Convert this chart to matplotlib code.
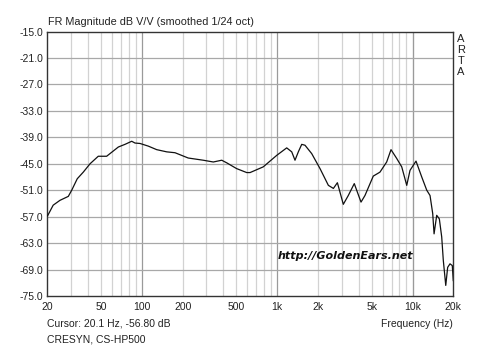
import numpy as np
import matplotlib.pyplot as plt
from matplotlib.ticker import FixedLocator, NullFormatter

plt.rcParams['font.family'] = ['Liberation Sans', 'DejaVu Sans']

# measured response, 1/24 oct smoothed
freq = [20.1, 22.1, 24.8, 28.6, 30.3, 33.3, 36.9, 41.4, 47.6, 54.9, 58.1, 67.0,
        75.0, 84.1, 88.9, 96.9, 111.5, 128.6, 152.5, 175.7, 220, 284, 337, 389,
        424, 501, 595, 630, 789, 991, 1175, 1280, 1353, 1432, 1517, 1604, 1798,
        2071, 2387, 2600, 2783, 3078, 3351, 3710, 3906, 4160, 4450, 5125, 5743,
        6438, 6930, 7636, 8316, 9057, 9576, 10604, 11690, 12730, 13460, 14090,
        14420, 15080, 15770, 16420, 16870, 17590, 18170, 18910, 19660, 20000]
mag = [-56.8, -54.4, -53.3, -52.4, -51.0, -48.4, -46.9, -45.0, -43.3, -43.3,
       -42.7, -41.2, -40.6, -39.9, -40.3, -40.4, -41.0, -41.8, -42.3, -42.5,
       -43.7, -44.2, -44.6, -44.2, -44.8, -46.1, -47.0, -47.0, -45.7, -43.1,
       -41.4, -42.3, -44.2, -42.3, -40.6, -40.8, -42.7, -46.1, -49.9, -50.6,
       -49.3, -54.2, -52.2, -49.5, -51.4, -53.7, -52.2, -47.8, -46.9, -44.6,
       -41.8, -43.8, -45.7, -49.9, -46.5, -44.4, -48.0, -51.0, -52.2, -56.3,
       -60.9, -56.7, -57.5, -61.6, -66.9, -72.6, -68.5, -67.7, -68.1, -71.5]

xtick_vals = [20, 50, 100, 200, 500, 1000, 2000, 5000, 10000, 20000]
xtick_text = ['20', '50', '100', '200', '500', '1k', '2k', '5k', '10k', '20k']
ytick_vals = [-75, -69, -63, -57, -51, -45, -39, -33, -27, -21, -15]

fig = plt.figure(figsize=(5, 3.49), dpi=100)
ax = fig.add_axes([47.3 / 500, 1 - 296 / 349, 406 / 500, 264.5 / 349])
ax.set_xscale('log')
ax.set_xlim(20, 20000)
ax.set_ylim(-75, -15)

# grid: every integer multiple in each decade, decades darker
minor = [m * d for d in (10, 100, 1000) for m in range(2, 10)] + [10000, 20000]
for f in minor:
    if 20 < f < 20000:
        ax.axvline(f, color='#d2d2d2', lw=0.9, zorder=0)
for f in (100, 1000, 10000):
    ax.axvline(f, color='#9a9a9a', lw=0.9, zorder=0)
for y in ytick_vals[1:-1]:
    ax.axhline(y, color='#a8a8a8', lw=0.9, zorder=0)

ax.plot(freq, mag, color='#111111', lw=0.9, zorder=3)

ax.xaxis.set_major_locator(FixedLocator(xtick_vals))
ax.xaxis.set_minor_formatter(NullFormatter())
ax.set_xticks(xtick_vals)
ax.set_xticklabels(xtick_text)
ax.set_yticks(ytick_vals)
ax.set_yticklabels([f'{v:.1f}' for v in ytick_vals])
ax.tick_params(which='both', length=0, labelsize=7.5, colors='#222222', pad=4)
ax.tick_params(axis='y', pad=3)
for s in ax.spines.values():
    s.set_color('#333333')
    s.set_linewidth(1.0)

fig.text(48 / 500, 1 - 22 / 349, 'FR Magnitude dB V/V (smoothed 1/24 oct)',
         fontsize=7.8, color='#222222', va='center', ha='left')
for i, ch in enumerate('ARTA'):
    fig.text(461 / 500, 1 - (38.5 + i * 11.3) / 349, ch, fontsize=8,
             color='#222222', ha='center', va='center')
fig.text(47 / 500, 1 - 324 / 349, 'Cursor: 20.1 Hz, -56.80 dB', fontsize=7.5,
         color='#222222', va='center', ha='left')
fig.text(47 / 500, 1 - 339 / 349, 'CRESYN, CS-HP500', fontsize=7.5,
         color='#222222', va='center', ha='left')
fig.text(453 / 500, 1 - 324 / 349, 'Frequency (Hz)', fontsize=7.5,
         color='#222222', va='center', ha='right')
fig.text(345 / 500, 1 - 256 / 349, 'http://GoldenEars.net', fontsize=8.0,
         fontweight='bold', fontstyle='italic', color='#111111',
         family=['DejaVu Sans'], ha='center', va='center')

fig.savefig('out.png', dpi=100, facecolor='white')
